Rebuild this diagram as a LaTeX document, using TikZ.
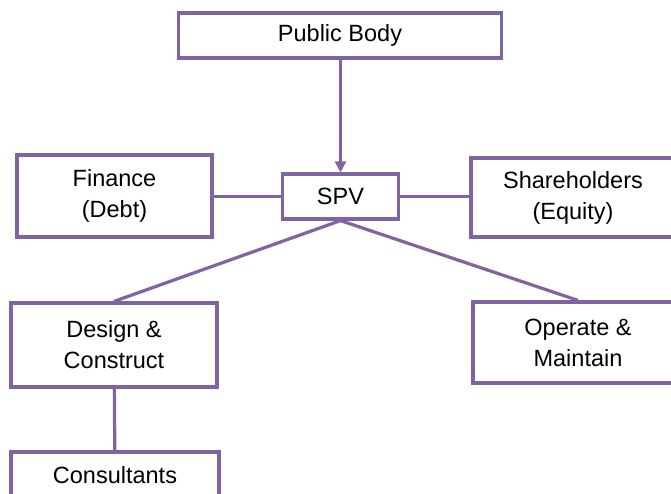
\documentclass[tikz,border=0pt]{standalone}
\usepackage{fontspec}
\setmainfont{Liberation Sans}
\usepackage{tikz}
\usetikzlibrary{arrows.meta, positioning}
\definecolor{boxpurple}{HTML}{8064A2}
\tikzset{
    party/.style={rectangle, draw=boxpurple, line width=3.2pt, fill=white, align=center, text centered, font=\fontsize{23.5}{31}\selectfont},
    link/.style={draw=boxpurple, line width=3.2pt},
    arrow/.style={draw=boxpurple, line width=3.2pt, -{Triangle[width=11pt,length=11pt]}},
}
\begin{document}
\begin{tikzpicture}[x=1pt, y=-1pt]
    \useasboundingbox (0,0) rectangle (671,494);

    \node [party, minimum width=323pt, minimum height=45pt] (pub) at (340,35.5) {Public Body};
    \node [party, minimum width=116pt, minimum height=45pt] (spv) at (340.5,196.5) {SPV};
    \node [party, minimum width=195pt, minimum height=82pt] (fin) at (114.5,196) {Finance\\(Debt)};
    \node [party, minimum width=204pt, minimum height=79pt] (share) at (573,197.5) {Shareholders\\(Equity)};

    \node [party, minimum width=206pt, minimum height=84pt] (design) at (114,345) {Design \&\\Construct};
    \node [party, minimum width=210pt, minimum height=81pt] (oper) at (578,342.5) {Operate \&\\Maintain};
    \node [party, minimum width=208pt, minimum height=46pt] (consult) at (115,475) {Consultants};

    \draw [arrow] (pub.south -| spv.north) -- (spv.north);
    \draw [link] (fin.east |- spv.west) -- (spv.west);
    \draw [link] (spv.east) -- (spv.east -| share.west);

    \draw [link] (spv.south) -- (design.north);
    \draw [link] (spv.south) -- (oper.north);
    \draw [link] (design) -- (consult);
\end{tikzpicture}
\end{document}
